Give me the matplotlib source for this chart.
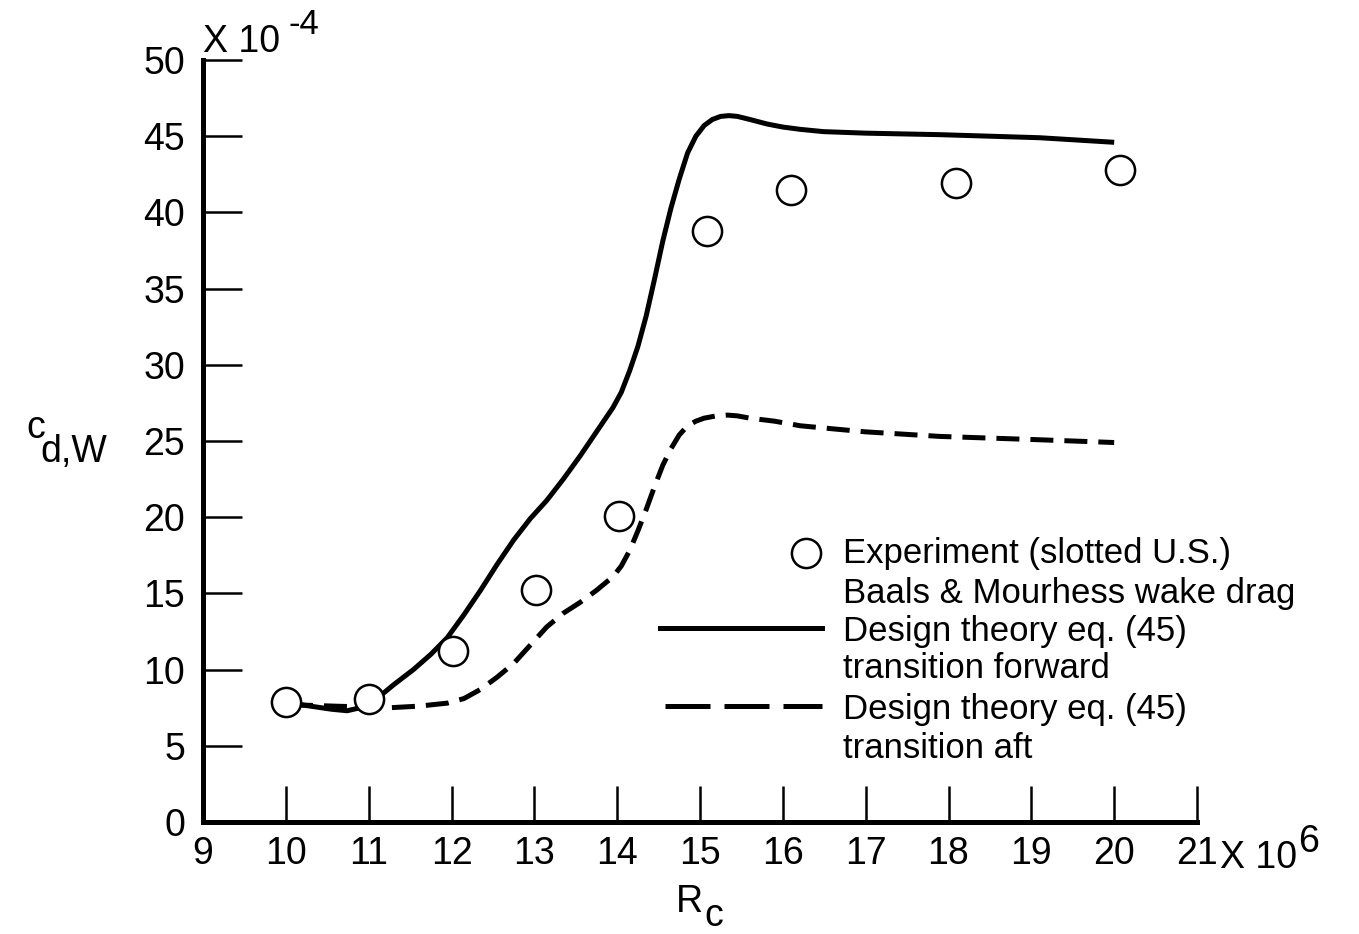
import matplotlib
matplotlib.use("Agg")
import matplotlib.pyplot as plt
from matplotlib.lines import Line2D

plt.rcParams['font.family'] = ['Liberation Sans', 'DejaVu Sans']
TS, LS = 27, 25

# ---- data ----
exp_x = [10.0, 11.0, 12.02, 13.02, 14.02, 15.08, 16.1, 18.09, 20.07]
exp_y = [7.9, 8.1, 11.2, 15.2, 20.1, 38.8, 41.5, 41.9, 42.8]

fwd_x = [10.05, 10.3, 10.55, 10.74, 10.9, 11.1, 11.3, 11.54, 11.75, 11.95,
         12.15, 12.35, 12.55, 12.75, 12.95, 13.15, 13.35, 13.55, 13.75,
         13.95, 14.05, 14.15, 14.25, 14.35, 14.45, 14.55, 14.65, 14.75,
         14.85, 14.95, 15.05, 15.15, 15.25, 15.35, 15.45, 15.6, 15.81, 16.0,
         16.21, 16.49, 17.0, 17.9, 19.1, 20.0]
fwd_y = [7.8, 7.6, 7.4, 7.3, 7.5, 8.1, 9.0, 10.0, 11.0, 12.1,
         13.6, 15.2, 16.9, 18.5, 19.9, 21.1, 22.5, 24.0, 25.6,
         27.2, 28.2, 29.6, 31.2, 33.2, 35.6, 38.1, 40.3, 42.2,
         43.9, 45.0, 45.7, 46.1, 46.3, 46.35, 46.3, 46.1, 45.8, 45.6,
         45.45, 45.3, 45.2, 45.1, 44.9, 44.6]

aft_x = [10.05, 10.6, 11.26, 11.6, 11.95, 12.15, 12.35, 12.55, 12.75, 12.95,
         13.15, 13.35, 13.55, 13.75, 13.95, 14.05, 14.15, 14.25, 14.35,
         14.45, 14.55, 14.65, 14.75, 14.85, 14.95, 15.05, 15.2, 15.33, 15.45,
         15.6, 15.9, 16.21, 16.6, 17.0, 17.9, 19.0, 20.0]
aft_y = [7.7, 7.6, 7.5, 7.6, 7.8, 8.1, 8.7, 9.5, 10.4, 11.6,
         12.8, 13.7, 14.4, 15.2, 16.1, 16.8, 17.8, 19.1, 20.5,
         22.0, 23.4, 24.5, 25.4, 26.0, 26.3, 26.5, 26.65, 26.7, 26.65,
         26.5, 26.3, 26.0, 25.8, 25.6, 25.3, 25.1, 24.9]

x_ticks = list(range(9, 22))
y_ticks = list(range(0, 51, 5))

legend_labels = ["Experiment (slotted U.S.)", "Baals & Mourhess wake drag",
                 "Design theory eq. (45)", "transition forward",
                 "Design theory eq. (45)", "transition aft"]

W, H = 1359, 934
fig = plt.figure(figsize=(W / 100, H / 100), dpi=100)


def px(x, y):
    return (x / W, 1 - y / H)


ax = fig.add_axes([203 / W, 1 - 822 / H, (1197 - 203) / W, (822 - 60) / H])
ax.set_xlim(9, 21)
ax.set_ylim(0, 50)
for s in ['top', 'right']:
    ax.spines[s].set_visible(False)
for s in ['left', 'bottom']:
    ax.spines[s].set_linewidth(3.6)
    ax.spines[s].set_capstyle('projecting')

ax.set_xticks(x_ticks)
ax.set_yticks(y_ticks)
ax.tick_params(axis='x', direction='in', length=26, width=1.8, pad=10,
               labelsize=TS)
ax.tick_params(axis='y', direction='in', length=28, width=1.8, pad=13,
               labelsize=TS)

ax.plot(fwd_x, fwd_y, color='black', lw=3.6, solid_capstyle='butt',
        solid_joinstyle='round', clip_on=False)
ax.plot(aft_x, aft_y, color='black', lw=3.6, dashes=(4.6, 2.2),
        clip_on=False)
ax.plot(exp_x, exp_y, linestyle='none', marker='o', ms=21,
        markerfacecolor='white', markeredgecolor='black', mew=1.8,
        clip_on=False, zorder=5)

# axis annotations
fig.text(*px(203, 42), "X 10", fontsize=TS, va='center', ha='left')
fig.text(*px(288, 25), "-4", fontsize=TS - 2, va='center', ha='left')
fig.text(*px(1220, 858), "X 10", fontsize=TS, va='center', ha='left')
fig.text(*px(1298, 842), "6", fontsize=TS, va='center', ha='left')

fig.text(*px(26, 428), "c", fontsize=TS, va='center', ha='left')
fig.text(*px(40, 452), "d,W", fontsize=TS, va='center', ha='left')
fig.text(*px(676, 902), "R", fontsize=TS, va='center', ha='left')
fig.text(*px(704, 916), "c", fontsize=TS, va='center', ha='left')

# legend (drawn manually)
fig.add_artist(Line2D([806 / W], [1 - 553 / H], marker='o', ms=21,
                      markerfacecolor='white', markeredgecolor='black',
                      mew=1.8, linestyle='none', transform=fig.transFigure))
fig.add_artist(Line2D([660 / W, 822 / W], [1 - 628 / H, 1 - 628 / H],
                      color='black', lw=3.6, transform=fig.transFigure))
fig.add_artist(Line2D([665 / W, 822 / W], [1 - 706 / H, 1 - 706 / H],
                      color='black', lw=3.6, dashes=(9.0, 2.8),
                      transform=fig.transFigure))
ys = [553, 594, 632, 668, 710, 748]
for lab, yy in zip(legend_labels, ys):
    fig.text(*px(843, yy), lab, fontsize=LS, va='center', ha='left')

fig.savefig("out.png", dpi=100, facecolor='white')
